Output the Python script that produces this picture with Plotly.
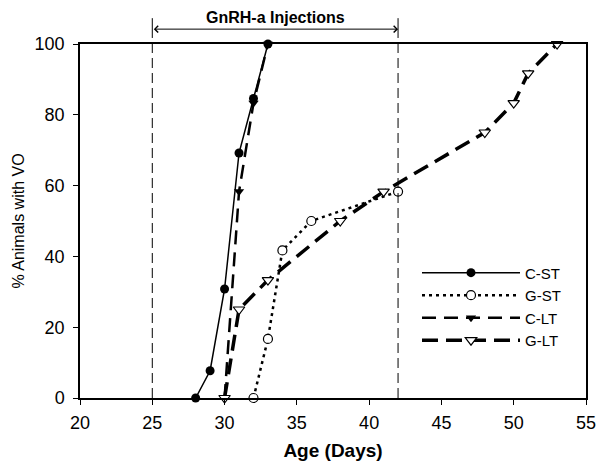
import plotly.graph_objects as go

# days of age and % animals with vaginal opening, per group
cst_age = [28, 29, 30, 31, 32, 33]
cst_vo = [0, 7.7, 30.8, 69.2, 84.6, 100]

gst_age = [32, 33, 34, 36, 42]
gst_vo = [0, 16.7, 41.7, 50, 58.3]

clt_age = [30, 31, 32, 33]
clt_vo = [0, 58.3, 83.3, 100]

glt_age = [30, 31, 33, 38, 41, 48, 50, 51, 53]
glt_vo = [0, 25, 33.3, 50, 58.3, 75, 83.3, 91.7, 100]

inj_start, inj_end = 25, 42
x_ticks = [20, 25, 30, 35, 40, 45, 50, 55]
y_ticks = [0, 20, 40, 60, 80, 100]

FONT = "Liberation Sans, Arial, sans-serif"

fig = go.Figure()

fig.add_trace(go.Scatter(
    x=cst_age, y=cst_vo, name="C-ST", mode="lines+markers",
    line=dict(color="black", width=1.5),
    marker=dict(symbol="circle", size=9, color="black"),
    cliponaxis=False))
fig.add_trace(go.Scatter(
    x=gst_age, y=gst_vo, name="G-ST", mode="lines+markers",
    line=dict(color="black", width=2.5, dash="3px,4px"),
    marker=dict(symbol="circle", size=9, color="white",
                line=dict(color="black", width=1.2)),
    cliponaxis=False))
fig.add_trace(go.Scatter(
    x=clt_age, y=clt_vo, name="C-LT", mode="lines+markers",
    line=dict(color="black", width=2.5, dash="14px,8px"),
    marker=dict(symbol="triangle-down", size=9, color="black"),
    cliponaxis=False))
fig.add_trace(go.Scatter(
    x=glt_age, y=glt_vo, name="G-LT", mode="lines+markers",
    line=dict(color="black", width=3.5, dash="16px,8px"),
    marker=dict(symbol="triangle-down", size=10, color="white",
                line=dict(color="black", width=1.2)),
    cliponaxis=False))

# injection window: dashed lines in the plot, solid bars above it
for d in (inj_start, inj_end):
    fig.add_shape(type="line", xref="x", yref="y", x0=d, x1=d, y0=0, y1=100,
                  line=dict(color="black", width=1, dash="10px,5px"))
    fig.add_shape(type="line", xref="x", yref="paper", x0=d, x1=d, y0=1.017, y1=1.073,
                  line=dict(color="black", width=1))

fig.add_annotation(x=inj_end, y=1.042, ax=inj_start, ay=0,
                   xref="x", yref="paper", axref="x", ayref="pixel",
                   showarrow=True, arrowhead=4, arrowside="end+start",
                   arrowsize=1.3, arrowwidth=1, arrowcolor="black", text="",
                   standoff=0, startstandoff=0)
fig.add_annotation(x=(inj_start + inj_end) / 2, y=1.076, xref="x", yref="paper",
                   yanchor="middle", xanchor="center",
                   text="<b>GnRH-a Injections</b>", showarrow=False,
                   font=dict(family=FONT, size=16, color="black"))

axis_common = dict(showgrid=False, zeroline=False, showline=True, linecolor="black",
                   linewidth=1.5, mirror=True, ticks="outside", ticklen=5,
                   tickcolor="black", tickfont=dict(family=FONT, size=18, color="black"))

fig.update_xaxes(range=[20, 55], tickvals=x_ticks, ticklabelstandoff=3,
                 title=dict(text="<b>Age (Days)</b>", standoff=11,
                            font=dict(family=FONT, size=19, color="black")),
                 **axis_common)
fig.update_yaxes(range=[0, 100], tickvals=y_ticks, ticklabelstandoff=5,
                 title=dict(text="% Animals with VO", standoff=6,
                            font=dict(family=FONT, size=16, color="black")),
                 **axis_common)

# page body has an 8px margin, so the figure is a little smaller than the window
fig.update_layout(
    width=596, height=461, template="none",
    plot_bgcolor="white", paper_bgcolor="white",
    margin=dict(l=72, r=18, t=36, b=71),
    font=dict(family=FONT, color="black"),
    legend=dict(x=0.666, y=0.40, xanchor="left", yanchor="top",
                bgcolor="rgba(0,0,0,0)", itemwidth=98, tracegroupgap=0,
                font=dict(family=FONT, size=15, color="black")),
)

fig.write_html("out.html")
